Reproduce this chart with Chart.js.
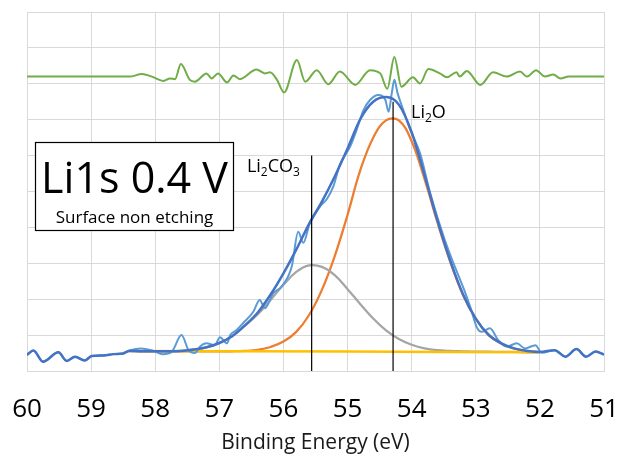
<!DOCTYPE html>
<html>
<head>
<meta charset="utf-8">
<script src="https://cdn.jsdelivr.net/npm/chart.js@4.4.1/dist/chart.umd.min.js"></script>
<style>
  body { margin: 0; background: #fff; }
  canvas { display: block; }
</style>
</head>
<body>
<canvas id="xps" width="623" height="460"></canvas>
<script>
// x ticks (binding energy, eV) - axis runs high -> low
const energyTicks = [60, 59, 58, 57, 56, 55, 54, 53, 52, 51];

// measured spectrum (Li1s)
const rawEnergy = [60.00, 59.90, 59.75, 59.51, 59.38, 59.25, 59.10, 58.99, 58.81, 58.65, 58.50, 58.39, 58.22, 58.03, 57.88, 57.74, 57.59, 57.48, 57.38, 57.30, 57.20, 57.07, 56.99, 56.88, 56.83, 56.73, 56.63, 56.47, 56.37, 56.29, 56.16, 56.03, 55.87, 55.77, 55.69, 55.59, 55.43, 55.32, 55.22, 55.12, 54.96, 54.86, 54.75, 54.65, 54.52, 54.41, 54.36, 54.31, 54.27, 54.22, 54.13, 54.02, 53.87, 53.71, 53.50, 53.35, 53.19, 53.08, 52.98, 52.91, 52.78, 52.65, 52.52, 52.36, 52.23, 52.07, 51.97, 51.77, 51.60, 51.43, 51.28, 51.13, 51.00];
const rawCounts = [0.45, 0.57, 0.26, 0.52, 0.28, 0.40, 0.29, 0.42, 0.43, 0.47, 0.49, 0.58, 0.63, 0.56, 0.47, 0.54, 1.00, 0.58, 0.50, 0.68, 0.77, 0.72, 0.94, 0.77, 1.00, 1.14, 1.33, 1.65, 1.98, 1.75, 2.16, 2.35, 2.91, 3.88, 3.57, 4.11, 4.58, 4.80, 5.15, 5.75, 6.25, 6.71, 7.27, 7.55, 7.69, 7.55, 7.22, 7.74, 8.11, 7.74, 7.27, 6.71, 6.07, 4.95, 3.74, 3.01, 2.30, 1.75, 1.20, 1.09, 1.19, 0.86, 0.68, 0.77, 0.63, 0.72, 0.51, 0.58, 0.40, 0.61, 0.40, 0.54, 0.46];

// envelope (follows the data outside the fit window)
const envelopeEnergy = [60.00, 59.90, 59.75, 59.51, 59.38, 59.25, 59.10, 58.99, 58.81, 58.65, 58.50, 58.4, 58.2, 58.0, 57.8, 57.6, 57.4, 57.2, 57.0, 56.8, 56.6, 56.4, 56.2, 56.0, 55.8, 55.6, 55.4, 55.2, 55.0, 54.8, 54.6, 54.4, 54.2, 54.0, 53.8, 53.6, 53.4, 53.2, 53.0, 52.8, 52.6, 52.4, 52.2, 52.0, 51.77, 51.60, 51.43, 51.28, 51.13, 51.00];
const envelopeCounts = [0.45, 0.57, 0.26, 0.52, 0.28, 0.40, 0.29, 0.42, 0.43, 0.47, 0.49, 0.56, 0.55, 0.55, 0.55, 0.56, 0.60, 0.66, 0.78, 0.97, 1.27, 1.63, 2.13, 2.72, 3.38, 4.10, 4.72, 5.42, 6.20, 7.02, 7.50, 7.63, 7.42, 6.65, 5.46, 4.20, 3.08, 2.14, 1.46, 1.01, 0.77, 0.63, 0.56, 0.53, 0.58, 0.40, 0.61, 0.40, 0.54, 0.46];

// fitted components
const fitEnergy = [58.4, 58.2, 58.0, 57.8, 57.6, 57.4, 57.2, 57.0, 56.8, 56.6, 56.4, 56.2, 56.0, 55.8, 55.6, 55.4, 55.2, 55.0, 54.8, 54.6, 54.4, 54.2, 54.0, 53.8, 53.6, 53.4, 53.2, 53.0, 52.8, 52.6, 52.4, 52.2, 52.0];
const li2oCounts = [0.56, 0.55, 0.55, 0.55, 0.55, 0.55, 0.55, 0.55, 0.55, 0.56, 0.59, 0.67, 0.82, 1.09, 1.56, 2.26, 3.20, 4.35, 5.60, 6.50, 6.98, 6.98, 6.40, 5.35, 4.15, 3.05, 2.12, 1.45, 1.00, 0.76, 0.62, 0.56, 0.53];
const li2co3Counts = [0.56, 0.55, 0.55, 0.55, 0.56, 0.60, 0.66, 0.78, 0.97, 1.26, 1.58, 1.98, 2.40, 2.76, 2.94, 2.90, 2.67, 2.28, 1.86, 1.46, 1.13, 0.89, 0.73, 0.63, 0.58, 0.56, 0.55, 0.54, 0.54, 0.53, 0.53, 0.52, 0.52];
const backgroundEnergy = [58.4, 55.0, 52.0];
const backgroundCounts = [0.56, 0.54, 0.52];

// residual (shifted up)
const residualEnergy = [60.00, 58.40, 58.21, 58.05, 57.87, 57.77, 57.69, 57.60, 57.46, 57.38, 57.20, 57.12, 57.02, 56.88, 56.78, 56.68, 56.42, 56.29, 56.21, 56.10, 55.99, 55.79, 55.66, 55.48, 55.30, 55.12, 54.88, 54.65, 54.49, 54.38, 54.27, 54.16, 53.98, 53.87, 53.74, 53.56, 53.45, 53.30, 53.25, 53.14, 52.93, 52.73, 52.52, 52.31, 52.20, 52.06, 51.92, 51.79, 51.68, 51.55, 51.00];
const residualCounts = [8.20, 8.20, 8.27, 8.20, 8.08, 8.15, 8.13, 8.55, 8.11, 8.06, 8.29, 8.15, 8.29, 8.04, 8.23, 8.13, 8.40, 8.29, 8.32, 8.11, 7.76, 8.66, 8.06, 8.38, 7.99, 8.34, 7.97, 8.38, 8.29, 7.86, 8.75, 7.92, 8.18, 8.01, 8.41, 8.29, 8.18, 8.32, 8.20, 8.36, 7.97, 8.32, 8.20, 8.34, 8.20, 8.38, 8.20, 8.26, 8.15, 8.20, 8.20];

// peak position markers
const li2co3MarkerEnergy = [55.56, 55.56];
const li2co3MarkerCounts = [0, 6.0];
const li2oMarkerEnergy = [54.29, 54.29];
const li2oMarkerCounts = [0, 7.5];

const FONT = "'Open Sans', sans-serif";

function toPoints(xs, ys) {
  return xs.map((x, i) => ({x: x, y: ys[i]}));
}

function lineSet(label, xs, ys, color, width, extra) {
  return Object.assign({
    label: label,
    data: toPoints(xs, ys),
    borderColor: color,
    borderWidth: width,
    pointRadius: 0,
    fill: false,
    tension: 0.4
  }, extra || {});
}

//draws text with subscript parts, e.g. Li2CO3
function drawFormula(ctx, parts, px, py) {
  let cx = px;
  parts.forEach(function(p) {
    ctx.font = p[1] ? `12px ${FONT}` : `18px ${FONT}`;
    ctx.fillText(p[0], cx, p[1] ? py + 4 : py);
    cx += ctx.measureText(p[0]).width;
  });
}

const annotations = {
  id: 'annotations',
  afterDatasetsDraw(chart) {
    const ctx = chart.ctx;
    const x = chart.scales.x;
    const y = chart.scales.y;
    ctx.save();

    // title box
    const bl = Math.round(x.getPixelForValue(59.875)) + 0.5;
    const br = Math.round(x.getPixelForValue(56.79)) + 0.5;
    const bt = Math.round(y.getPixelForValue(6.38)) + 0.5;
    const bb = Math.round(y.getPixelForValue(3.93)) + 0.5;
    ctx.fillStyle = '#fff';
    ctx.fillRect(bl, bt, br - bl, bb - bt);
    ctx.strokeStyle = '#000';
    ctx.lineWidth = 1.2;
    ctx.strokeRect(bl, bt, br - bl, bb - bt);

    ctx.fillStyle = '#000';
    ctx.textAlign = 'center';
    ctx.textBaseline = 'alphabetic';
    ctx.font = `43px ${FONT}`;
    ctx.fillText('Li1s 0.4 V', (bl + br) / 2, bt + 50);
    ctx.font = `17px ${FONT}`;
    ctx.fillText('Surface non etching', (bl + br) / 2, bt + 80);

    // peak labels
    ctx.textAlign = 'left';
    drawFormula(ctx, [['Li', false], ['2', true], ['CO', false], ['3', true]],
      x.getPixelForValue(56.57), y.getPixelForValue(5.53));
    drawFormula(ctx, [['Li', false], ['2', true], ['O', false]],
      x.getPixelForValue(54.01), y.getPixelForValue(7.04));

    ctx.restore();
  }
};

const GRID = '#d9d9d9';

new Chart(document.getElementById('xps'), {
  type: 'line',
  data: {
    datasets: [
      lineSet('Residual', residualEnergy, residualCounts, '#70AD47', 2, {cubicInterpolationMode: 'monotone'}),
      lineSet('Li2O position', li2oMarkerEnergy, li2oMarkerCounts, '#000', 1.2, {tension: 0}),
      lineSet('Li2CO3 position', li2co3MarkerEnergy, li2co3MarkerCounts, '#000', 1.2, {tension: 0}),
      lineSet('Envelope', envelopeEnergy, envelopeCounts, '#4472C4', 2.5, {cubicInterpolationMode: 'monotone'}),
      lineSet('Raw', rawEnergy, rawCounts, '#5B9BD5', 2, {cubicInterpolationMode: 'monotone'}),
      lineSet('Background', backgroundEnergy, backgroundCounts, '#FFC000', 2.5),
      lineSet('Li2CO3', fitEnergy, li2co3Counts, '#A5A5A5', 2.25),
      lineSet('Li2O', fitEnergy, li2oCounts, '#ED7D31', 2.25)
    ]
  },
  options: {
    responsive: false,
    animation: false,
    devicePixelRatio: 1,
    layout: {
      padding: {left: 27, right: 19, top: 12, bottom: 0}
    },
    plugins: {
      legend: {display: false},
      tooltip: {enabled: false}
    },
    scales: {
      x: {
        type: 'linear',
        reverse: true,
        min: 51,
        max: 60,
        afterBuildTicks: function(scale) {
          scale.ticks = energyTicks.map(v => ({value: v}));
        },
        afterFit: function(scale) {
          scale.height = 89;
          //labels may overhang the plot edges, keep plot area fixed
          scale.paddingLeft = 0;
          scale.paddingRight = 0;
        },
        grid: {color: GRID, lineWidth: 1, drawTicks: false},
        border: {color: GRID},
        ticks: {
          padding: 23,
          color: '#000',
          font: {family: FONT, size: 26},
          callback: v => v
        },
        title: {
          display: true,
          text: 'Binding Energy (eV)',
          color: '#1a1a1a',
          font: {family: FONT, size: 21},
          padding: {top: 0, bottom: 4}
        }
      },
      y: {
        min: 0,
        max: 10,
        ticks: {display: false, stepSize: 1},
        grid: {color: GRID, lineWidth: 1, drawTicks: false},
        border: {display: false},
        afterFit: function(scale) {
          scale.width = 0;
        }
      }
    }
  },
  plugins: [annotations]
});
</script>
</body>
</html>
